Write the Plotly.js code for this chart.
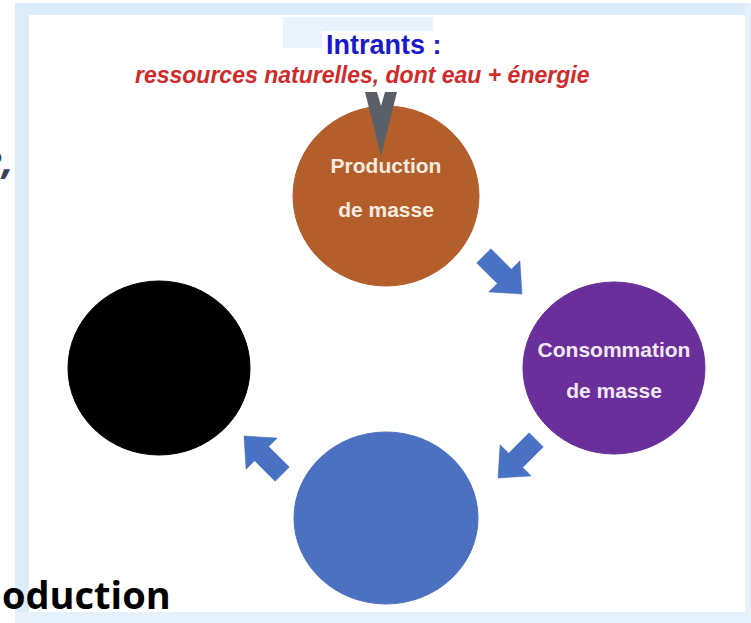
<!DOCTYPE html>
<html>
<head>
<meta charset="utf-8">
<script src="https://cdn.plot.ly/plotly-3.0.1.min.js"></script>
<style>html,body{margin:0;padding:0;background:#fff;}#chart{width:751px;height:623px;}</style>
</head>
<body>
<div id="chart"></div>
<script>
// --- content ---
const titleText = "Intrants :";
const subtitleText = "ressources naturelles, dont eau + énergie";
const nodeNames = ["Production de masse", "Consommation de masse", "", ""];
const nodeLine1 = ["Production", "Consommation", "", ""];
const nodeLine2 = ["de masse", "de masse", "", ""];
const nodeColors = ["#b45e2b", "#6a2f9a", "#4d71c1", "#000000"];
const nodeTextColors = ["#f6ebe0", "#f1e8f6", "#ffffff", "#ffffff"];
const sideTextLeft = "e,";
const bottomText = "oduction";

// --- layout geometry (pixels) ---
const nodeCx = [386, 614, 386, 159];
const nodeCy = [196, 368, 518, 368];
const nodeRx = [93, 91, 92, 91];
const nodeRy = [90, 86, 86, 87];
const arrowTips = [[522, 294], [498, 478], [244, 436]];
const arrowDirs = [[1, 1], [-1, 1], [-1, -1]];

const shapes = [];
// background bands
const band = "#dcedf9";
shapes.push({type:"rect", xref:"x", yref:"y", x0:15, x1:751, y0:3, y1:15, fillcolor:band, line:{width:0}, layer:"below"});
shapes.push({type:"rect", xref:"x", yref:"y", x0:15, x1:29, y0:3, y1:623, fillcolor:band, line:{width:0}, layer:"below"});
shapes.push({type:"rect", xref:"x", yref:"y", x0:745, x1:751, y0:3, y1:623, fillcolor:"#e6f2fb", line:{width:0}, layer:"below"});
shapes.push({type:"rect", xref:"x", yref:"y", x0:15, x1:751, y0:612, y1:623, fillcolor:"#e6f2fb", line:{width:0}, layer:"below"});
// faint block behind title
shapes.push({type:"path", xref:"x", yref:"y", path:"M283,17 L433,17 L433,31 L322,31 L322,48 L283,48 Z", fillcolor:"#e8f3fc", line:{width:0}, layer:"below"});

// circles
for (let i = 0; i < nodeCx.length; i++) {
  shapes.push({type:"circle", xref:"x", yref:"y", layer:"below",
    x0:nodeCx[i]-nodeRx[i], x1:nodeCx[i]+nodeRx[i],
    y0:nodeCy[i]-nodeRy[i], y1:nodeCy[i]+nodeRy[i],
    fillcolor:nodeColors[i], line:{color:nodeColors[i], width:1}});
}
// block arrows
function arrowPath(tip, dir) {
  const n = Math.hypot(dir[0], dir[1]);
  const d = [dir[0]/n, dir[1]/n];
  const p = [-d[1], d[0]];
  const L = 54, H = 25, w1 = 10, w2 = 22;
  const tail = [tip[0]-L*d[0], tip[1]-L*d[1]];
  const base = [tip[0]-H*d[0], tip[1]-H*d[1]];
  const pts = [
    [tail[0]+w1*p[0], tail[1]+w1*p[1]],
    [base[0]+w1*p[0], base[1]+w1*p[1]],
    [base[0]+w2*p[0], base[1]+w2*p[1]],
    tip,
    [base[0]-w2*p[0], base[1]-w2*p[1]],
    [base[0]-w1*p[0], base[1]-w1*p[1]],
    [tail[0]-w1*p[0], tail[1]-w1*p[1]]
  ];
  return "M" + pts.map(q => q[0].toFixed(1)+","+q[1].toFixed(1)).join(" L") + " Z";
}
for (let i = 0; i < arrowTips.length; i++) {
  shapes.push({type:"path", xref:"x", yref:"y", layer:"below", path:arrowPath(arrowTips[i], arrowDirs[i]),
    fillcolor:"#4a72c4", line:{color:"#3f66b8", width:0.5}});
}
// funnel
shapes.push({type:"path", xref:"x", yref:"y", layer:"below",
  path:"M365,92 L377,92 L381,106 L385,92 L397,92 L381,156 Z",
  fillcolor:"#59606a", line:{width:0}});

const annotations = [];
const F = "Liberation Sans, Arial, sans-serif";
annotations.push({xref:"x", yref:"y", x:384, y:45, text:"<b>"+titleText+"</b>", showarrow:false,
  font:{family:"Liberation Sans Narrow, "+F, size:27, color:"#1a1acb"}, xanchor:"center", yanchor:"middle"});
annotations.push({xref:"x", yref:"y", x:362, y:75, text:"<b><i>"+subtitleText+"</i></b>", showarrow:false,
  font:{family:F, size:23, color:"#d12a2a"}, xanchor:"center", yanchor:"middle"});
annotations.push({xref:"x", yref:"y", x:16, y:158, text:"<b><i>"+sideTextLeft+"</i></b>", showarrow:false,
  font:{family:"Open Sans, sans-serif", size:40, color:"#34405e"}, xanchor:"right", yanchor:"middle"});
annotations.push({xref:"x", yref:"y", x:0, y:594, text:"<b>"+bottomText+"</b>", showarrow:false,
  font:{family:"Open Sans, sans-serif", size:38, color:"#000000"}, xanchor:"left", yanchor:"middle"});

const data = [{
  type:"scatter", mode:"text", x:nodeCx, y:nodeCy.map((c,i)=>c-(i===0?28:16)),
  text:nodeLine1.map(t=>"<b>"+t+"</b>"), textposition:"middle center",
  textfont:{family:F, size:21, color:nodeTextColors}, hoverinfo:"text", hovertext:nodeNames, showlegend:false
},{
  type:"scatter", mode:"text", x:nodeCx, y:nodeCy.map((c,i)=>c+(i===0?16:25)),
  text:nodeLine2.map(t=>"<b>"+t+"</b>"), textposition:"middle center",
  textfont:{family:F, size:21, color:nodeTextColors}, hoverinfo:"text", hovertext:nodeNames, showlegend:false
}];

const layout = {
  width:751, height:623, margin:{l:0, r:0, t:0, b:0},
  paper_bgcolor:"#ffffff", plot_bgcolor:"#ffffff",
  xaxis:{range:[0,751], visible:false, fixedrange:true},
  yaxis:{range:[623,0], visible:false, fixedrange:true},
  shapes:shapes, annotations:annotations, showlegend:false
};
Plotly.newPlot("chart", data, layout, {displayModeBar:false, staticPlot:true});
</script>
</body>
</html>
